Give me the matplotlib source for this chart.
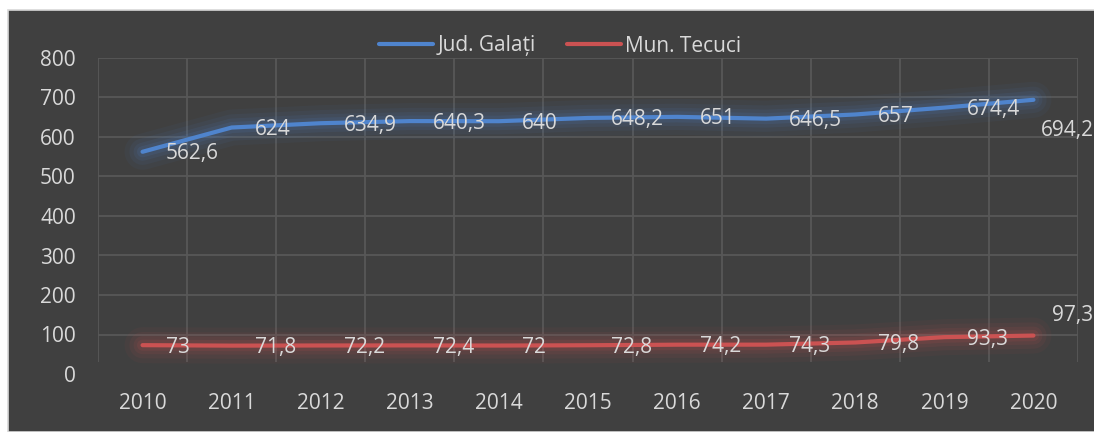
import matplotlib
matplotlib.use("Agg")
import matplotlib.pyplot as plt
from matplotlib import patches

years = ["2010", "2011", "2012", "2013", "2014", "2015", "2016", "2017", "2018", "2019", "2020"]
galati = [562.6, 624, 634.9, 640.3, 640, 648.2, 651, 646.5, 657, 674.4, 694.2]
tecuci = [73, 71.8, 72.2, 72.4, 72, 72.8, 74.2, 74.3, 79.8, 93.3, 97.3]
galati_labels = ["562,6", "624", "634,9", "640,3", "640", "648,2", "651", "646,5", "657", "674,4", "694,2"]
tecuci_labels = ["73", "71,8", "72,2", "72,4", "72", "72,8", "74,2", "74,3", "79,8", "93,3", "97,3"]

BG = "#404040"
GRID = "#585858"
TXT = "#d9d9d9"
BLUE = "#4f84cd"
RED = "#cb5252"
FS = 15

plt.rcParams["font.family"] = ["Open Sans", "DejaVu Sans"]

fig = plt.figure(figsize=(10.94, 4.32), dpi=100, facecolor="white")
# dark chart area with a thin light border on top/left
bg = patches.Rectangle((8 / 1094, 0), 1, 422 / 432, transform=fig.transFigure,
                       facecolor=BG, edgecolor="#d8d8d8", linewidth=1.2, zorder=-10)
fig.add_artist(bg)

ax = fig.add_axes([98 / 1094, 58 / 432, 980 / 1094, 316 / 432])
ax.set_facecolor("none")
for s in ax.spines.values():
    s.set_visible(False)

x = list(range(len(years)))
ax.set_xlim(-0.5, len(years) - 0.5)
ax.set_ylim(0, 800)

# grid: horizontal lines (no baseline), vertical lines between categories
ax.hlines(range(100, 801, 100), -0.5, len(years) - 0.5, color=GRID, lw=1.3, zorder=1)
ax.vlines([i - 0.5 for i in range(len(years) + 1)], 30, 800, color=GRID, lw=1.3, zorder=1)

# soft glow under each line
for ys, c in ((galati, BLUE), (tecuci, RED)):
    for w, a in ((26, 0.05), (19, 0.07), (13, 0.09), (8, 0.12)):
        ax.plot(x, ys, color=c, lw=w, alpha=a, solid_capstyle="round", zorder=2)

l1, = ax.plot(x, galati, color=BLUE, lw=3, solid_capstyle="round", zorder=3, label="Jud. Galați")
l2, = ax.plot(x, tecuci, color=RED, lw=3, solid_capstyle="round", zorder=3, label="Mun. Tecuci")

for i, (v, t) in enumerate(zip(galati, galati_labels)):
    off = (7, -31) if i == len(x) - 1 else (23, -2)
    ax.annotate(t, (i, v), textcoords="offset pixels", xytext=off, ha="left", va="center",
                color=TXT, fontsize=FS, zorder=4, annotation_clip=False)
for i, (v, t) in enumerate(zip(tecuci, tecuci_labels)):
    off = (19, 20) if i == len(x) - 1 else (23, -2)
    ax.annotate(t, (i, v), textcoords="offset pixels", xytext=off, ha="left", va="center",
                color=TXT, fontsize=FS, zorder=4, annotation_clip=False)

ax.set_xticks(x)
ax.set_xticklabels(years)
ax.set_yticks(range(0, 801, 100))
ax.tick_params(length=0, colors=TXT, labelsize=FS)
ax.tick_params(axis="x", pad=14)
ax.tick_params(axis="y", pad=16)

leg = fig.legend(handles=[l1, l2], loc="center", bbox_to_anchor=(560 / 1094, 1 - 46 / 432),
                 ncol=2, frameon=False, fontsize=FS, labelcolor=TXT,
                 handlelength=2.6, handletextpad=0.2, columnspacing=1.5)

fig.savefig("out.png", dpi=100, facecolor="white")
